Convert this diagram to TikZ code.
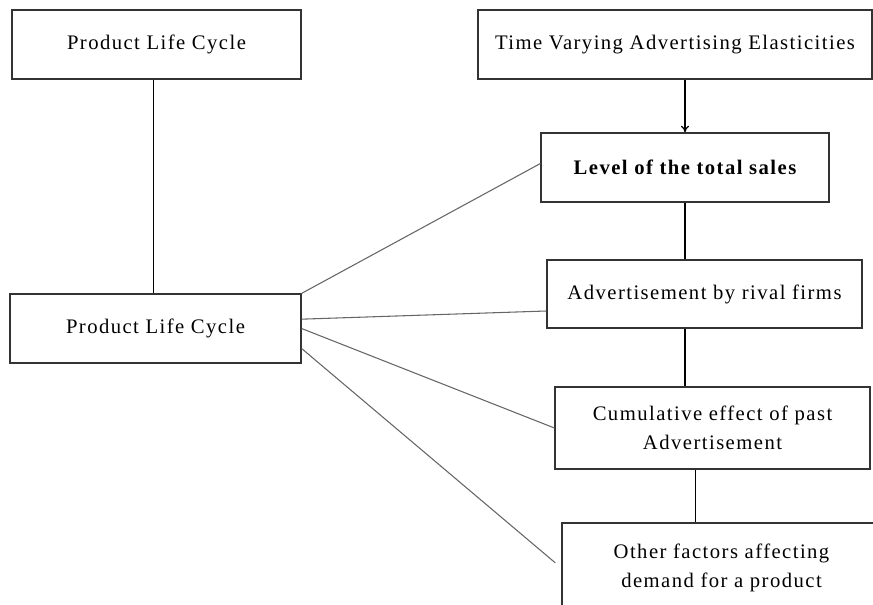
\documentclass[tikz,border=0pt]{standalone}
\usepackage{fontspec}
\setmainfont[LetterSpace=7]{Liberation Serif}
\usetikzlibrary{arrows.meta, positioning}

\begin{document}
\begin{tikzpicture}[
  x=0.75pt, y=-0.75pt,
  every node/.style={draw=black!80, line width=0.9pt, align=center, inner sep=0pt,
    font=\fontsize{15.5}{21.5}\selectfont},
  link/.style={draw=black!60, line width=0.8pt},
  stem/.style={draw=black, line width=0.9pt}
]
\useasboundingbox (0,0) rectangle (873,605);
\clip (0,0) rectangle (873,605);

\node[minimum width=216.75pt, minimum height=51.75pt] (plc) at (156.5,44.5) {Product Life Cycle};
\node[minimum width=295.5pt, minimum height=51.75pt] (tvae) at (675,44.5) {Time Varying Advertising Elasticities};
\node[minimum width=216pt, minimum height=51.75pt, font=\fontsize{15.5}{21.5}\selectfont\bfseries] (sales) at (685,167.5) {Level of the total sales};
\node[minimum width=236.25pt, minimum height=51pt] (rival) at (704.5,294) {Advertisement by rival firms};
\node[minimum width=236.25pt, minimum height=61.5pt] (past) at (712.5,428) {Cumulative effect of past\\Advertisement};
\node[minimum width=239.25pt, minimum height=67.5pt] (other) at (721.5,568) {Other factors affecting\\demand for a product};
\node[minimum width=218.25pt, minimum height=51.75pt] (cycle) at (155.5,328.5) {Product Life Cycle};

% vertical links
\draw[stem] ([xshift=-2.5pt]plc.south) -- ([xshift=-2.5pt]plc.south |- cycle.north);
\draw[stem, -{To[length=5pt, width=6pt]}] (tvae.south -| sales.north) -- (sales.north);
\draw[stem] (sales.south) -- (sales.south |- rival.north);
\draw[stem] (sales.south |- rival.south) -- (sales.south |- past.north);
\draw[stem] ([xshift=-13pt]past.south) -- ([xshift=-13pt]past.south |- other.north);

% links from the product life cycle
\draw[link] (cycle.north east) -- ([yshift=3pt]sales.west);
\draw[link] ([yshift=7pt]cycle.east) -- ([yshift=-12.75pt]rival.west);
\draw[link] (cycle.east) -- (past.west);
\draw[link, shorten >=6pt] ([yshift=-15pt]cycle.east) -- (other.west);
\end{tikzpicture}
\end{document}
